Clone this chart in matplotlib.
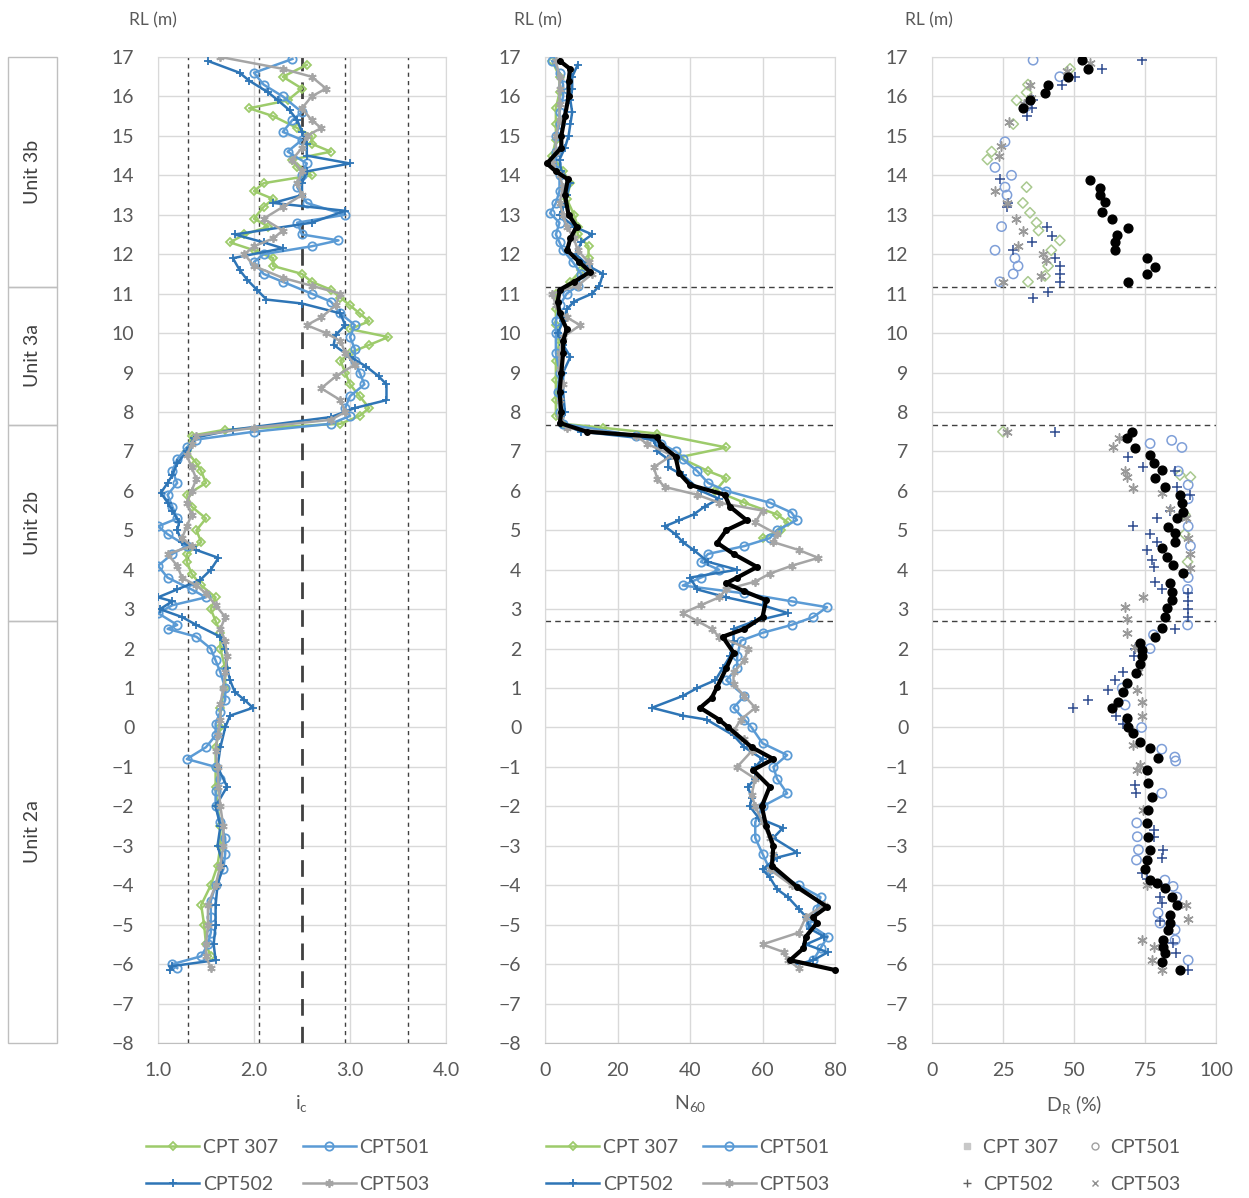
import matplotlib
matplotlib.use("Agg")
import matplotlib.pyplot as plt
from matplotlib.patches import Rectangle
from matplotlib.lines import Line2D

plt.rcParams["font.family"] = ["Lato", "DejaVu Sans"]
plt.rcParams["mathtext.fontset"] = "custom"
plt.rcParams["mathtext.rm"] = "Lato"
plt.rcParams["mathtext.it"] = "Lato:italic"

# geological units (RL, m)
unit_names = ["Unit 3b", "Unit 3a", "Unit 2b", "Unit 2a"]
unit_tops = [17.0, 11.17, 7.67, 2.7]
unit_bottoms = [11.17, 7.67, 2.7, -8.0]
boundary_rl = [11.17, 7.67, 2.7]

# Ic soil behaviour type limits
ic_limits = [1.31, 2.05, 2.95, 3.6]
ic_main = 2.5

cpt_names = ["CPT 307", "CPT501", "CPT502", "CPT503"]

# ---- Ic profiles (RL, Ic) ----
ic_307 = [(16.8, 2.55), (16.5, 2.3), (16.2, 2.5), (15.9, 2.35), (15.7, 1.95), (15.5, 2.2), (15.2, 2.45),
          (15.0, 2.6), (14.8, 2.6), (14.6, 2.8), (14.4, 2.4), (14.2, 2.45), (14.0, 2.6), (13.8, 2.1),
          (13.6, 2.0), (13.4, 2.2), (13.2, 2.1), (12.9, 2.0), (12.7, 2.15), (12.5, 1.9), (12.3, 1.75),
          (12.1, 2.0), (11.9, 2.2), (11.7, 2.2), (11.5, 2.5), (11.3, 2.6), (11.1, 2.8), (10.9, 2.9),
          (10.7, 3.0), (10.5, 3.1), (10.3, 3.2), (10.1, 3.0), (9.9, 3.4), (9.7, 3.2), (9.5, 3.0),
          (9.3, 2.9), (9.0, 2.95), (8.7, 3.0), (8.4, 3.1), (8.1, 3.2), (7.9, 3.1), (7.7, 2.9),
          (7.55, 1.7), (7.4, 1.35), (7.0, 1.3), (6.7, 1.4), (6.5, 1.45), (6.2, 1.5), (5.9, 1.3),
          (5.6, 1.35), (5.3, 1.5), (5.0, 1.4), (4.7, 1.45), (4.4, 1.3), (4.2, 1.3), (3.9, 1.35),
          (3.6, 1.45), (3.3, 1.6), (3.0, 1.55), (2.7, 1.6), (2.4, 1.65), (2.0, 1.65), (1.5, 1.7),
          (1.0, 1.7), (0.5, 1.65), (0.0, 1.65), (-0.5, 1.6), (-1.0, 1.6), (-1.5, 1.6), (-2.0, 1.62),
          (-2.5, 1.65), (-3.0, 1.65), (-3.5, 1.62), (-4.0, 1.55), (-4.5, 1.45), (-5.0, 1.48),
          (-5.5, 1.5), (-5.8, 1.55)]
ic_501 = [(16.95, 2.4), (16.6, 2.0), (16.3, 2.1), (16.0, 2.3), (15.6, 2.5), (15.4, 2.4), (15.1, 2.3),
          (14.9, 2.5), (14.6, 2.35), (14.3, 2.55), (14.0, 2.5), (13.7, 2.45), (13.3, 2.55), (13.0, 2.95),
          (12.8, 2.45), (12.5, 2.5), (12.35, 2.88), (12.2, 2.6), (12.0, 2.1), (11.8, 2.0), (11.5, 2.1),
          (11.3, 2.3), (11.0, 2.6), (10.8, 2.8), (10.5, 2.9), (10.2, 3.05), (9.9, 3.0), (9.6, 3.05),
          (9.3, 3.05), (9.0, 3.1), (8.7, 3.15), (8.4, 3.0), (8.1, 2.95), (7.9, 3.0), (7.7, 2.8),
          (7.5, 2.0), (7.3, 1.4), (7.1, 1.3), (6.8, 1.2), (6.5, 1.15), (6.2, 1.2), (5.9, 1.1),
          (5.6, 1.15), (5.3, 1.2), (5.1, 1.0), (4.9, 1.1), (4.6, 1.3), (4.4, 1.15), (4.1, 1.0),
          (3.8, 1.1), (3.5, 1.35), (3.3, 1.5), (3.1, 1.15), (2.9, 1.0), (2.6, 1.2), (2.5, 1.1),
          (2.3, 1.4), (2.0, 1.55), (1.7, 1.6), (1.4, 1.65), (1.0, 1.7), (0.7, 1.7), (0.4, 1.65),
          (0.1, 1.6), (-0.2, 1.6), (-0.5, 1.5), (-0.8, 1.3), (-1.0, 1.6), (-1.3, 1.65), (-1.6, 1.6),
          (-2.0, 1.6), (-2.4, 1.65), (-2.8, 1.7), (-3.2, 1.7), (-3.6, 1.68), (-4.0, 1.6), (-4.4, 1.55),
          (-4.8, 1.55), (-5.2, 1.55), (-5.5, 1.52), (-5.8, 1.45), (-6.0, 1.15), (-6.1, 1.2)]
ic_502 = [(16.9, 1.52), (16.6, 1.85), (16.4, 1.95), (16.1, 2.15), (15.9, 2.25), (15.65, 2.37), (15.4, 2.45),
          (15.1, 2.5), (14.8, 2.55), (14.5, 2.55), (14.3, 3.0), (14.1, 2.55), (13.8, 2.5), (13.5, 2.5),
          (13.3, 2.2), (13.1, 2.95), (12.8, 2.6), (12.5, 1.8), (12.3, 2.1), (12.15, 2.3), (11.9, 1.78),
          (11.6, 1.85), (11.35, 1.93), (11.1, 2.03), (10.85, 2.13), (10.75, 2.5), (10.5, 2.9), (10.2, 2.95),
          (9.95, 2.85), (9.7, 2.83), (9.4, 3.0), (9.15, 3.17), (8.9, 3.3), (8.7, 3.38), (8.3, 3.38),
          (8.1, 3.05), (7.87, 2.8), (7.55, 1.78), (7.34, 1.37), (7.0, 1.3), (6.7, 1.2), (6.4, 1.15),
          (6.2, 1.1), (5.95, 1.03), (5.7, 1.1), (5.5, 1.15), (5.2, 1.22), (5.0, 1.2), (4.7, 1.25),
          (4.5, 1.4), (4.3, 1.63), (4.0, 1.55), (3.74, 1.44), (3.5, 1.2), (3.3, 1.0), (3.2, 1.15),
          (3.0, 1.02), (2.8, 1.25), (2.6, 1.4), (2.3, 1.65), (2.0, 1.7), (1.5, 1.72), (1.2, 1.75),
          (0.9, 1.8), (0.7, 1.9), (0.5, 1.99), (0.3, 1.75), (0.0, 1.7), (-0.5, 1.65), (-1.0, 1.62),
          (-1.5, 1.72), (-2.0, 1.6), (-2.5, 1.65), (-3.0, 1.62), (-3.5, 1.68), (-4.0, 1.62), (-4.5, 1.6),
          (-5.0, 1.6), (-5.5, 1.58), (-5.9, 1.6), (-6.05, 1.15), (-6.15, 1.12)]
ic_503 = [(17.0, 1.65), (16.7, 2.3), (16.5, 2.6), (16.2, 2.75), (16.0, 2.6), (15.7, 2.5), (15.4, 2.6),
          (15.2, 2.7), (15.0, 2.55), (14.7, 2.5), (14.4, 2.4), (14.1, 2.5), (13.8, 2.45), (13.5, 2.5),
          (13.2, 2.3), (12.9, 2.1), (12.6, 2.3), (12.4, 2.2), (12.2, 2.0), (12.0, 1.9), (11.7, 2.0),
          (11.4, 2.3), (11.2, 2.6), (11.0, 2.9), (10.7, 2.85), (10.4, 2.7), (10.2, 2.55), (10.0, 2.75),
          (9.8, 2.9), (9.5, 2.95), (9.2, 3.05), (8.9, 2.85), (8.6, 2.7), (8.3, 2.9), (8.0, 2.95),
          (7.8, 2.8), (7.6, 2.0), (7.4, 1.4), (7.2, 1.35), (6.9, 1.3), (6.6, 1.35), (6.3, 1.4),
          (6.0, 1.35), (5.7, 1.3), (5.4, 1.35), (5.1, 1.3), (4.8, 1.25), (4.6, 1.35), (4.4, 1.1),
          (4.1, 1.2), (3.8, 1.25), (3.6, 1.4), (3.4, 1.5), (3.1, 1.6), (2.8, 1.7), (2.5, 1.65),
          (2.2, 1.7), (1.8, 1.72), (1.4, 1.7), (1.0, 1.68), (0.6, 1.65), (0.2, 1.65), (-0.2, 1.62),
          (-0.6, 1.6), (-1.0, 1.62), (-1.5, 1.63), (-2.0, 1.65), (-2.5, 1.68), (-3.0, 1.68),
          (-3.5, 1.65), (-4.0, 1.6), (-4.5, 1.52), (-5.0, 1.52), (-5.5, 1.5), (-5.8, 1.5), (-6.1, 1.55)]

# ---- N60 profiles (RL, N60) ----
n60_307 = [(16.9, 2.0), (16.5, 4.0), (16.1, 4.0), (15.7, 3.0), (15.3, 3.0), (14.9, 3.0), (14.5, 2.0),
           (14.1, 5.0), (13.8, 7.0), (13.4, 6.0), (13.0, 8.0), (12.7, 9.0), (12.5, 9.0), (12.2, 12.0),
           (11.9, 12.0), (11.6, 10.0), (11.3, 7.0), (11.0, 3.0), (10.6, 3.0), (10.2, 3.0), (9.8, 4.0),
           (9.3, 3.0), (8.8, 3.0), (8.3, 3.0), (7.9, 3.0), (7.7, 5.0), (7.6, 16.0), (7.45, 31.0),
           (7.1, 50.0), (6.85, 37.0), (6.5, 45.0), (6.32, 50.0), (6.0, 47.0), (5.7, 55.0), (5.4, 64.0),
           (5.2, 67.0), (5.0, 65.0), (4.8, 60.0)]
n60_501 = [(16.9, 2.0), (16.6, 4.0), (16.3, 5.0), (16.0, 5.0), (15.6, 4.0), (15.3, 4.0), (15.0, 3.0),
           (14.6, 3.0), (14.3, 3.0), (14.0, 4.0), (13.6, 4.0), (13.3, 3.0), (13.04, 1.4), (12.8, 4.0),
           (12.5, 3.0), (12.3, 4.0), (12.1, 5.0), (11.8, 7.7), (11.5, 10.0), (11.2, 9.0), (11.0, 6.0),
           (10.7, 4.0), (10.3, 3.0), (10.0, 3.0), (9.5, 3.0), (9.0, 4.0), (8.5, 3.5), (8.0, 4.0),
           (7.7, 5.0), (7.4, 25.0), (7.2, 32.0), (7.0, 36.0), (6.8, 38.0), (6.5, 42.0), (6.2, 45.0),
           (6.0, 50.0), (5.7, 62.0), (5.45, 68.0), (5.26, 69.5), (5.0, 64.0), (4.8, 62.0), (4.6, 55.0),
           (4.4, 45.0), (4.2, 43.0), (4.0, 48.0), (3.8, 43.0), (3.6, 38.0), (3.4, 55.0), (3.2, 68.0),
           (3.05, 77.8), (2.8, 74.0), (2.6, 68.0), (2.4, 60.0), (2.2, 54.0), (1.8, 53.0), (1.5, 53.0),
           (1.2, 50.0), (0.8, 55.0), (0.5, 52.0), (0.2, 55.0), (0.0, 57.0), (-0.4, 60.0), (-0.7, 66.8),
           (-1.0, 63.0), (-1.3, 64.0), (-1.67, 66.8), (-2.0, 60.0), (-2.4, 58.0), (-2.8, 58.0),
           (-3.2, 60.0), (-3.6, 62.0), (-4.0, 70.0), (-4.3, 76.0), (-4.6, 75.0), (-5.0, 73.0),
           (-5.3, 78.0), (-5.6, 76.0), (-5.9, 74.0)]
n60_502 = [(16.8, 9.0), (16.5, 7.5), (16.2, 7.5), (15.9, 7.0), (15.6, 7.5), (15.3, 7.0), (15.0, 6.5),
           (14.7, 5.5), (14.4, 4.0), (14.1, 4.5), (13.8, 7.0), (13.5, 6.0), (13.2, 5.0), (13.0, 4.0),
           (12.7, 8.0), (12.5, 13.0), (12.3, 10.0), (12.0, 8.5), (11.7, 12.0), (11.5, 16.0), (11.2, 15.0),
           (11.0, 13.0), (10.8, 8.0), (10.6, 6.0), (10.3, 5.0), (10.0, 3.5), (9.7, 5.0), (9.4, 7.0),
           (9.0, 5.0), (8.5, 5.0), (8.0, 5.5), (7.7, 4.5), (7.5, 10.0), (7.3, 30.0), (7.0, 31.0),
           (6.8, 34.0), (6.6, 34.0), (6.4, 38.0), (6.0, 43.0), (5.8, 48.0), (5.6, 44.0), (5.4, 41.0),
           (5.25, 37.0), (5.1, 33.0), (4.9, 36.0), (4.7, 38.0), (4.5, 41.0), (4.2, 45.0), (4.0, 53.0),
           (3.8, 40.0), (3.5, 42.0), (3.3, 50.0), (3.1, 60.0), (2.9, 67.0), (2.7, 58.0), (2.5, 52.0),
           (2.2, 52.0), (1.8, 51.0), (1.5, 49.0), (1.2, 47.0), (1.0, 42.0), (0.8, 38.0), (0.5, 29.5),
           (0.3, 38.0), (0.2, 44.6), (-0.2, 52.0), (-0.5, 55.0), (-0.8, 60.0), (-1.0, 58.0),
           (-1.3, 58.0), (-1.5, 56.0), (-1.8, 57.0), (-2.0, 56.5), (-2.3, 59.0), (-2.55, 65.6),
           (-2.8, 63.0), (-3.17, 69.5), (-3.3, 64.0), (-3.6, 60.0), (-3.8, 62.0), (-4.1, 64.0),
           (-4.3, 67.0), (-4.6, 70.0), (-4.8, 72.0), (-5.1, 73.0), (-5.3, 77.0), (-5.5, 72.0),
           (-5.7, 78.0), (-5.9, 74.0), (-6.0, 70.0)]
n60_503 = [(16.9, 3.0), (16.5, 4.0), (16.2, 4.0), (15.8, 4.0), (15.4, 4.0), (15.0, 3.0), (14.6, 3.0),
           (14.3, 2.0), (14.0, 4.0), (13.7, 5.0), (13.3, 4.0), (13.0, 5.0), (12.7, 6.0), (12.4, 8.0),
           (12.1, 9.0), (11.8, 12.0), (11.5, 13.0), (11.2, 9.0), (11.0, 2.0), (10.7, 3.0), (10.4, 6.0),
           (10.2, 9.7), (9.9, 5.0), (9.5, 4.0), (9.1, 4.0), (8.7, 5.0), (8.3, 4.0), (7.9, 4.0),
           (7.6, 6.0), (7.4, 25.0), (7.2, 28.0), (6.9, 35.0), (6.6, 30.0), (6.3, 31.0), (6.1, 33.0),
           (5.9, 42.0), (5.7, 48.0), (5.5, 60.0), (5.2, 58.0), (4.9, 64.0), (4.7, 63.0), (4.5, 70.0),
           (4.3, 75.4), (4.1, 68.0), (3.9, 62.0), (3.7, 58.0), (3.5, 50.0), (3.3, 48.0), (3.1, 43.0),
           (2.9, 38.0), (2.7, 42.0), (2.5, 46.0), (2.3, 48.0), (2.0, 56.0), (1.7, 55.0), (1.4, 52.0),
           (1.1, 52.0), (0.8, 55.0), (0.5, 58.0), (0.2, 54.0), (-0.1, 52.0), (-0.3, 55.0), (-0.6, 57.0),
           (-1.0, 53.0), (-1.3, 58.0), (-1.7, 57.0), (-2.0, 58.0), (-2.4, 60.0), (-2.8, 62.0),
           (-3.2, 63.0), (-3.6, 62.0), (-4.0, 68.0), (-4.5, 77.0), (-4.8, 72.0), (-5.2, 70.0),
           (-5.5, 60.0), (-5.7, 66.0), (-5.9, 67.0), (-6.1, 70.0)]
n60_avg = [(16.9, 4.1), (16.7, 6.9), (16.4, 6.5), (16.0, 6.5), (15.5, 5.5), (15.0, 4.5), (14.7, 4.5),
           (14.3, 0.5), (14.1, 3.0), (13.9, 6.3), (13.5, 5.5), (13.0, 6.5), (12.7, 8.7), (12.4, 7.0),
           (12.1, 6.1), (11.8, 9.5), (11.55, 12.4), (11.3, 8.0), (11.1, 4.1), (10.8, 3.5), (10.5, 4.0),
           (10.1, 6.0), (9.8, 5.0), (9.5, 5.0), (9.0, 4.5), (8.5, 4.0), (8.0, 4.5), (7.72, 4.1),
           (7.5, 11.5), (7.37, 30.8), (7.17, 32.0), (6.87, 36.0), (6.45, 37.0), (6.15, 40.0),
           (5.9, 49.6), (5.6, 51.0), (5.25, 55.7), (5.0, 50.0), (4.68, 47.5), (4.4, 52.0), (4.07, 58.5),
           (3.8, 53.0), (3.66, 50.0), (3.45, 55.0), (3.23, 61.0), (2.8, 60.0), (2.5, 55.0), (2.3, 49.0),
           (1.9, 52.0), (1.5, 50.0), (1.03, 47.5), (0.75, 46.0), (0.5, 42.8), (0.2, 48.0), (0.0, 50.6),
           (-0.5, 57.0), (-0.8, 63.0), (-1.08, 57.4), (-1.5, 62.0), (-2.0, 59.8), (-2.5, 61.0),
           (-3.0, 63.0), (-3.5, 62.6), (-4.04, 69.5), (-4.55, 77.8), (-4.8, 74.0), (-4.96, 75.0),
           (-5.3, 72.0), (-5.6, 71.3), (-5.9, 67.6), (-6.15, 80.0)]

# ---- Relative density (RL, DR %) ----
dr_307 = [(16.7, 48.6), (16.3, 33.8), (16.1, 33.3), (15.9, 29.8), (15.3, 28.6), (14.6, 21.0), (14.4, 19.5),
          (13.7, 33.3), (13.3, 32.0), (13.05, 34.5), (12.8, 36.8), (12.6, 37.5), (12.35, 45.0),
          (12.1, 42.0), (11.7, 40.9), (11.45, 39.8), (11.3, 33.8), (7.5, 25.0), (6.4, 87.3),
          (6.35, 91.0), (5.4, 89.0), (4.9, 89.0), (4.2, 90.0)]
dr_501 = [(16.92, 35.6), (16.5, 45.0), (15.75, 33.3), (14.85, 25.7), (14.2, 22.2), (14.0, 28.0),
          (13.7, 25.7), (13.5, 26.4), (12.7, 24.5), (12.1, 22.2), (11.9, 29.2), (11.7, 30.3),
          (11.5, 28.6), (11.3, 23.9), (7.28, 84.4), (7.1, 88.0), (7.2, 76.8), (6.5, 86.7), (6.15, 90.2),
          (5.8, 90.2), (5.1, 90.2), (4.6, 91.0), (3.8, 90.2), (3.5, 90.0), (2.6, 90.0), (2.35, 78.0),
          (2.0, 76.8), (1.0, 67.0), (0.57, 68.0), (0.0, 73.8), (-0.55, 80.9), (-0.75, 85.5),
          (-0.85, 85.8), (-1.67, 80.9), (-2.42, 72.1), (-2.77, 72.3), (-3.1, 72.7), (-3.36, 72.0),
          (-3.87, 82.0), (-4.03, 84.9), (-4.3, 86.2), (-4.7, 79.6), (-4.96, 80.3), (-5.13, 85.6),
          (-5.39, 85.6), (-5.9, 90.2)]
dr_502 = [(16.92, 73.8), (16.7, 59.7), (16.5, 50.4), (16.29, 45.7), (15.9, 35.6), (15.7, 35.1),
          (15.5, 33.3), (13.9, 24.0), (13.3, 26.9), (13.2, 26.4), (12.1, 28.6), (12.3, 35.1),
          (12.7, 40.4), (12.45, 42.1), (11.9, 43.3), (11.7, 45.0), (11.5, 45.0), (11.3, 45.0),
          (11.05, 40.8), (10.9, 35.6), (7.5, 43.3), (6.87, 69.0), (6.6, 74.4), (6.5, 85.6), (6.1, 86.2),
          (5.9, 90.8), (5.5, 83.8), (5.1, 70.8), (5.3, 79.1), (4.9, 76.8), (4.7, 79.1), (4.5, 75.6),
          (4.25, 77.4), (4.07, 78.0), (3.7, 78.5), (3.5, 80.9), (3.4, 90.2), (3.2, 90.2), (3.0, 90.2),
          (2.8, 90.2), (2.5, 85.6), (2.0, 71.5), (1.8, 71.0), (1.4, 67.3), (1.2, 64.4), (0.95, 62.0),
          (0.7, 55.0), (0.5, 49.6), (0.28, 64.9), (0.1, 67.3), (-1.47, 71.5), (-1.67, 71.9),
          (-2.6, 78.0), (-2.77, 78.0), (-3.1, 81.4), (-3.3, 81.0), (-3.7, 73.8), (-3.85, 75.6),
          (-4.3, 80.3), (-4.45, 80.9), (-4.9, 80.3), (-5.47, 84.9), (-5.73, 86.0), (-6.15, 90.2)]
dr_503 = [(16.85, 55.6), (16.65, 47.5), (16.3, 34.5), (15.95, 34.9), (15.8, 32.5), (15.35, 27.0),
          (14.75, 24.2), (14.5, 23.5), (13.6, 22.2), (13.3, 26.4), (12.9, 29.6), (12.6, 32.0),
          (12.2, 30.3), (12.0, 39.2), (11.85, 40.3), (11.45, 38.5), (11.3, 25.0), (7.5, 26.3),
          (7.35, 66.0), (7.1, 63.8), (6.5, 67.9), (6.35, 68.5), (6.08, 70.8), (5.95, 80.9),
          (5.55, 83.8), (5.3, 89.6), (4.8, 90.2), (4.4, 90.8), (4.05, 90.8), (3.3, 74.4), (3.05, 68.0),
          (2.75, 68.5), (2.4, 68.5), (2.05, 71.5), (1.4, 72.7), (0.95, 72.1), (0.65, 74.0), (0.3, 74.0),
          (-0.45, 70.8), (-0.95, 73.2), (-1.08, 72.1), (-2.09, 74.4), (-4.0, 75.6), (-4.5, 89.6),
          (-4.85, 90.0), (-5.4, 73.8), (-5.56, 78.0), (-5.9, 77.4), (-6.15, 80.9)]
dr_avg = [(16.92, 52.7), (16.7, 55.0), (16.5, 48.0), (16.29, 40.9), (16.08, 39.8), (15.9, 34.5),
          (15.7, 32.0), (13.88, 55.6), (13.67, 59.0), (13.5, 59.0), (13.33, 61.0), (13.07, 59.7),
          (12.9, 63.3), (12.66, 69.0), (12.49, 65.0), (12.3, 64.4), (12.1, 64.4), (11.9, 75.6),
          (11.68, 78.5), (11.5, 75.6), (11.3, 69.0), (7.5, 70.3), (7.33, 68.5), (7.08, 71.5),
          (6.9, 76.8), (6.7, 78.0), (6.53, 80.9), (6.32, 78.5), (6.1, 82.0), (5.9, 87.3), (5.69, 88.0),
          (5.47, 88.5), (5.3, 86.2), (5.09, 83.0), (4.93, 85.6), (4.7, 85.6), (4.55, 80.9), (4.32, 82.6),
          (4.12, 84.9), (3.91, 88.5), (3.66, 83.8), (3.44, 84.4), (3.23, 84.4), (3.03, 82.6),
          (2.8, 82.0), (2.52, 80.9), (2.3, 78.5), (2.14, 73.2), (1.97, 73.8), (1.8, 73.8), (1.6, 73.2),
          (1.38, 72.0), (1.12, 68.5), (0.9, 67.3), (0.65, 65.5), (0.49, 63.3), (0.24, 68.5), (0.01, 69.0),
          (-0.14, 70.8), (-0.37, 73.2), (-0.52, 76.8), (-0.78, 79.6), (-1.08, 75.6), (-1.4, 76.2),
          (-1.76, 77.4), (-2.09, 76.2), (-2.42, 75.6), (-2.77, 76.2), (-3.1, 76.8), (-3.36, 75.6),
          (-3.6, 74.9), (-3.87, 76.8), (-3.94, 79.1), (-4.07, 82.0), (-4.3, 84.4), (-4.5, 86.2),
          (-4.75, 83.8), (-4.96, 83.8), (-5.13, 83.0), (-5.39, 81.4), (-5.56, 81.4), (-5.73, 82.0),
          (-5.95, 80.9), (-6.15, 87.3)]

line_colors = ["#9DCB6B", "#5B9BD5", "#2E75B6", "#A5A5A5"]
line_markers = ["D", "o", "+", (6, 2, 0)]
dr_colors = ["#A9C98F", "#7F9FD8", "#2F4C8F", "#9A9A9A"]

W, H = 1249, 1198
fig = plt.figure(figsize=(W / 100, H / 100), dpi=100)
txt = "#595959"
gridc = "#D9D9D9"
# legend rows: 307 / 501 on top, 502 / 503 below (legend fills column-wise)
leg_order = [0, 2, 1, 3]


def pos(x0, x1):
    return [x0 / W, 1 - 1043 / H, (x1 - x0) / W, 986 / H]


def style(ax, xlim, xticks, xticklabels, xlabel):
    ax.set_ylim(-8, 17)
    ax.set_yticks(range(-8, 18))
    ax.set_xlim(*xlim)
    ax.set_xticks(xticks)
    ax.set_xticklabels(xticklabels)
    ax.grid(True, color=gridc, lw=1)
    ax.set_axisbelow(True)
    for s in ax.spines.values():
        s.set_color(gridc)
    ax.spines["bottom"].set_color("#BFBFBF")
    ax.tick_params(length=0, labelsize=14, colors=txt)
    ax.tick_params(axis="y", pad=17)
    ax.tick_params(axis="x", pad=14)
    ax.set_xlabel(xlabel, fontsize=14, color=txt, labelpad=10)


def xy(pairs):
    return [p[1] for p in pairs], [p[0] for p in pairs]


def line_panel(ax, series):
    handles = []
    for data, name, col, mk in zip(series, cpt_names, line_colors, line_markers):
        x, y = xy(data)
        open_mk = mk in ("D", "o")
        h, = ax.plot(x, y, color=col, lw=1.8, marker=mk, ms=6 if mk != "D" else 4.5,
                     mfc="none" if open_mk else col, mec=col, mew=1.3, label=name, zorder=3)
        handles.append(h)
    return handles


# units column
axu = fig.add_axes([8 / W, 1 - 1043 / H, 49 / W, 986 / H])
axu.set_xlim(0, 1)
axu.set_ylim(-8, 17)
axu.axis("off")
for name, top, bot in zip(unit_names, unit_tops, unit_bottoms):
    axu.add_patch(Rectangle((0, bot), 1, top - bot, fill=False, ec="#BFBFBF", lw=1, clip_on=False))
    axu.text(0.5, (top + bot) / 2, name, rotation=90, ha="center", va="center",
             fontsize=14, color="#404040")

# Ic panel
ax1 = fig.add_axes(pos(158, 446))
style(ax1, (1, 4), [1, 2, 3, 4], ["1.0", "2.0", "3.0", "4.0"], r"i$_\mathregular{c}$")
for v in ic_limits:
    ax1.axvline(v, color="#404040", lw=1, ls=(0, (3, 3)), zorder=2)
ax1.axvline(ic_main, color="#404040", lw=2, ls=(0, (6, 4)), zorder=2)
h1 = line_panel(ax1, [ic_307, ic_501, ic_502, ic_503])

# N60 panel
ax2 = fig.add_axes(pos(545, 835))
style(ax2, (0, 80), [0, 20, 40, 60, 80], ["0", "20", "40", "60", "80"], r"N$_\mathregular{60}$")
for r in boundary_rl:
    ax2.axhline(r, color="#404040", lw=1, ls=(0, (4, 3)), zorder=2)
h2 = line_panel(ax2, [n60_307, n60_501, n60_502, n60_503])
x, y = xy(n60_avg)
ax2.plot(x, y, color="black", lw=3, marker="o", ms=4, zorder=5, clip_on=False)

# DR panel
ax3 = fig.add_axes(pos(932, 1216))
style(ax3, (0, 100), [0, 25, 50, 75, 100], ["0", "25", "50", "75", "100"], r"D$_\mathregular{R}$ (%)")
for r in boundary_rl:
    ax3.axhline(r, color="#404040", lw=1, ls=(0, (4, 3)), zorder=2)
for data, name, col, mk in zip([dr_307, dr_501, dr_502, dr_503], cpt_names, dr_colors, line_markers):
    x, y = xy(data)
    open_mk = mk in ("D", "o")
    ax3.scatter(x, y, s=45 if mk != "D" else 28, marker=mk,
                facecolors="none" if open_mk else col, edgecolors=col,
                linewidths=1.1, label=name, zorder=3)
x, y = xy(dr_avg)
ax3.scatter(x, y, s=40, color="black", zorder=5)

# RL labels
for xc in [153, 538, 929]:
    fig.text(xc / W, 1 - 20 / H, "RL (m)", ha="center", va="center", fontsize=12.5, color=txt)

# legends
leg_kw = dict(ncol=2, frameon=False, fontsize=14, labelcolor=txt, columnspacing=1.3,
              handletextpad=0.2, labelspacing=1.05, loc="center")
names_leg = [cpt_names[i] for i in leg_order]
fig.legend(handles=[h1[i] for i in leg_order], labels=names_leg,
           bbox_to_anchor=(288 / W, 1 - 1166 / H), handlelength=2.7, **leg_kw)
fig.legend(handles=[h2[i] for i in leg_order], labels=names_leg,
           bbox_to_anchor=(688 / W, 1 - 1166 / H), handlelength=2.7, **leg_kw)
h3_leg = [Line2D([], [], ls="none", marker="s", ms=4, color="#C8C8C8"),
          Line2D([], [], ls="none", marker="o", ms=5, mfc="none", mec="#A0A0A0"),
          Line2D([], [], ls="none", marker="+", ms=6, color="#606060"),
          Line2D([], [], ls="none", marker="x", ms=5, color="#909090")]
fig.legend(handles=[h3_leg[i] for i in leg_order], labels=names_leg,
           bbox_to_anchor=(1068 / W, 1 - 1166 / H), handlelength=1.2, **leg_kw)

fig.savefig("out.png", dpi=100, facecolor="white")
